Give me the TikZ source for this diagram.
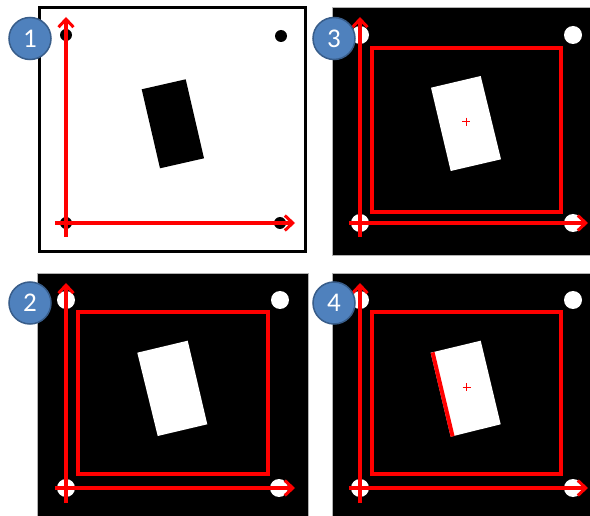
\documentclass[tikz,border=0pt]{standalone}
\usepackage{fontspec}
\setmainfont{Carlito}
\usetikzlibrary{arrows.meta}
\definecolor{numfill}{RGB}{79,129,189}
\definecolor{numline}{RGB}{56,93,138}
\tikzset{
  numcirc/.style={circle,fill=numfill,draw=numline,line width=1.5pt,minimum size=42pt,inner sep=0pt,text=white,font=\fontsize{27}{27}\selectfont},
  axis/.style={draw=red,line width=3.5pt,-{Straight Barb[length=8pt,width=15pt,line width=3pt]}},
  redbox/.style={draw=red,line width=3.5pt},
  dotb/.style={fill=black},
  dotw/.style={fill=white},
  plusmark/.style={draw=red,line width=1pt},
  panelblack/.style={fill=black,draw=gray!60,line width=0.8pt}
}
\begin{document}
\begin{tikzpicture}[x=1pt,y=-1pt]
\useasboundingbox (0,0) rectangle (590,516);
\fill[white] (0,0) rectangle (590,516);
% ---------- panel 1 ----------
\draw[line width=3pt] (39,8) rectangle (305,252);
\fill[black] (141.7,89.3) -- (185.7,79.3) -- (204,158.3) -- (160,168.3) -- cycle;
\foreach \p in {(66,35),(281,36),(66,223),(280,223)} \fill[dotb] \p circle (6);
\coordinate (a1s) at (66,237); \coordinate (a1e) at (66,17);
\coordinate (b1s) at (55,223); \coordinate (b1e) at (295,223);
\draw[axis] (a1s) -- (a1e);
\draw[axis] (b1s) -- (b1e);
% ---------- panel 3 ----------
\draw[panelblack] (332,7) rectangle (591,255);
\draw[redbox] (372,48) rectangle (561,212);
\fill[white] (431,87.7) -- (480.7,76) -- (501,159.3) -- (450.7,171) -- cycle;
\draw[plusmark] (462,121.7) -- (470,121.7) (466,117.7) -- (466,125.7);
\foreach \p in {(360,35),(573,35),(360,223),(573,223)} \fill[dotw] \p circle (9);
\coordinate (a3s) at (360,237); \coordinate (a3e) at (360,17);
\coordinate (b3s) at (349,223); \coordinate (b3e) at (588,223);
\draw[axis] (a3s) -- (a3e);
\draw[axis] (b3s) -- (b3e);
% ---------- panel 2 ----------
\draw[panelblack] (37,273) rectangle (308,517);
\draw[redbox] (78,312) rectangle (268,474);
\fill[white] (137.3,352.7) -- (187.7,340.7) -- (207.3,424.3) -- (157.7,436) -- cycle;
\foreach \p in {(66,300),(280,300),(66,488),(279,488)} \fill[dotw] \p circle (9);
\coordinate (a2s) at (66,503); \coordinate (a2e) at (66,283);
\coordinate (b2s) at (55,488); \coordinate (b2e) at (295,488);
\draw[axis] (a2s) -- (a2e);
\draw[axis] (b2s) -- (b2e);
% ---------- panel 4 ----------
\draw[panelblack] (332,273) rectangle (591,517);
\draw[redbox] (372,312) rectangle (561,474);
\fill[white] (430.7,352.7) -- (480.7,340.7) -- (500.7,424.3) -- (450.7,436.7) -- cycle;
\draw[red,line width=4pt] (432.6,352.4) -- (452.6,436.4);
\draw[plusmark] (462.7,387.3) -- (470.7,387.3) (466.7,383.3) -- (466.7,391.3);
\foreach \p in {(360,300),(573,300),(360,488),(573,488)} \fill[dotw] \p circle (9);
\coordinate (a4s) at (360,503); \coordinate (a4e) at (360,283);
\coordinate (b4s) at (349,488); \coordinate (b4e) at (588,488);
\draw[axis] (a4s) -- (a4e);
\draw[axis] (b4s) -- (b4e);
% ---------- number badges ----------
\node[numcirc] (n1) at (30,38.5) {1};
\node[numcirc] (n2) at (30,303) {2};
\node[numcirc] (n3) at (334,38.5) {3};
\node[numcirc] (n4) at (334,303) {4};
\end{tikzpicture}
\end{document}
